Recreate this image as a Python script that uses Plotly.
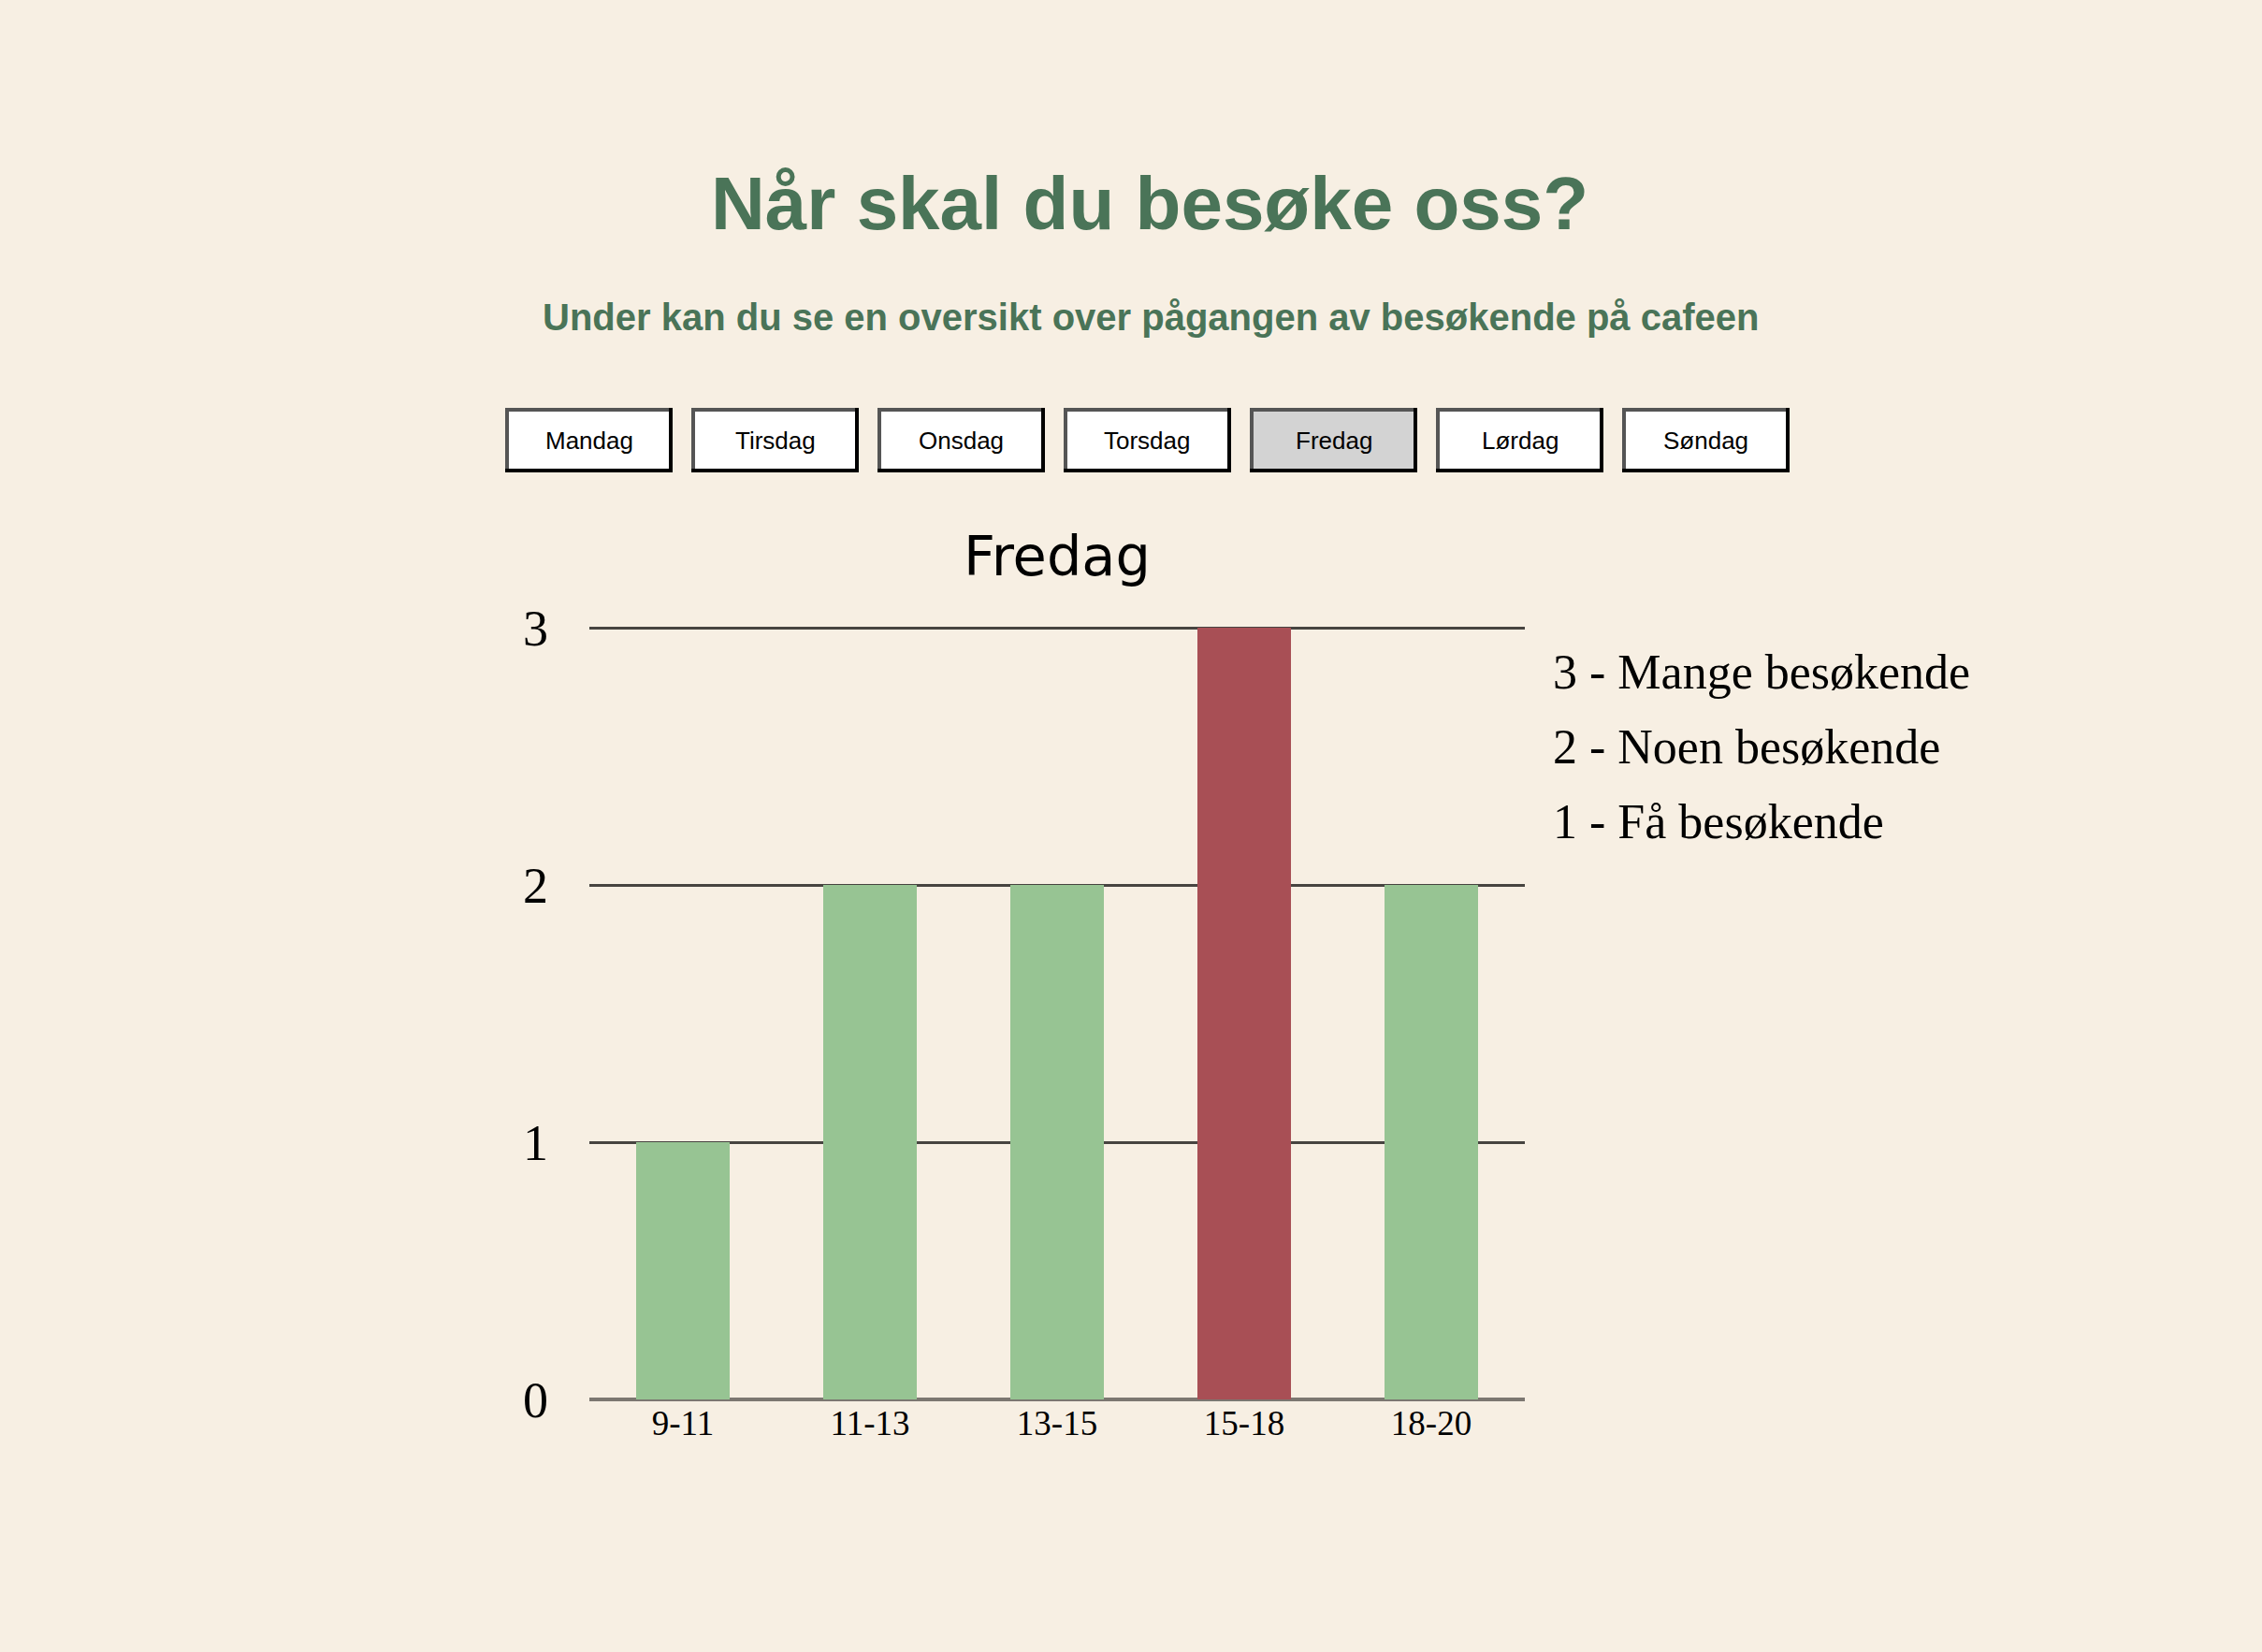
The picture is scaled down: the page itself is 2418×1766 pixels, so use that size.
import plotly.graph_objects as go

W, H = 2418, 1766

# ---- data ----
days = ["Mandag", "Tirsdag", "Onsdag", "Torsdag", "Fredag", "Lørdag", "Søndag"]
selected_day = "Fredag"
time_slots = ["9-11", "11-13", "13-15", "15-18", "18-20"]
visitors = [1, 2, 2, 3, 2]
level_labels = ["1 - Få besøkende", "2 - Noen besøkende", "3 - Mange besøkende"]
y_ticks = [0, 1, 2, 3]

title_text = "Når skal du besøke oss?"
subtitle_text = "Under kan du se en oversikt over pågangen av besøkende på cafeen"

# ---- styles ----
BG = "#f7efe3"
GREEN_TXT = "#4a7458"
BAR_GREEN = "#97c493"
BAR_RED = "#a84f55"
SERIF = "Liberation Serif, Times New Roman, serif"
SANS = "Liberation Sans, Arial, sans-serif"


def px(x):
    return x / W


def py(y):
    return 1 - y / H


bar_colors = [BAR_RED if v == max(visitors) else BAR_GREEN for v in visitors]

fig = go.Figure()
fig.add_trace(go.Bar(
    x=time_slots, y=visitors, marker=dict(color=bar_colors, line=dict(width=0)),
    hoverinfo="x+y",
))

# plot area in pixels
PL, PR = 630, 1630
PB = 1496
UNIT = 275          # pixels per y unit
YTOP = 3.02         # a little headroom so the top gridline is drawn
PT = PB - YTOP * UNIT

fig.update_layout(
    width=W, height=H,
    margin=dict(l=0, r=0, t=0, b=0, autoexpand=False),
    paper_bgcolor=BG, plot_bgcolor=BG,
    bargap=0.5,
    showlegend=False,
    xaxis=dict(
        domain=[px(PL), px(PR)], automargin=False,
        showgrid=False, showline=False, zeroline=False,
        tickfont=dict(family=SERIF, size=37, color="#000"),
        ticks="", fixedrange=True,
    ),
    yaxis=dict(
        domain=[py(PB), py(PT)], automargin=False,
        range=[0, YTOP], tickvals=y_ticks,
        showgrid=True, gridcolor="#474440", gridwidth=3,
        zeroline=True, zerolinecolor="#7c7771", zerolinewidth=4,
        showline=False,
        tickfont=dict(family=SERIF, size=54, color="#000"),
        ticks="", ticklabelstandoff=43, fixedrange=True,
    ),
)

annotations = []
# main title
annotations.append(dict(
    text=f"<b>{title_text}</b>", x=px(1229), y=py(217), xref="paper", yref="paper",
    xanchor="center", yanchor="middle", showarrow=False,
    font=dict(family=SANS, size=80, color=GREEN_TXT),
))
annotations.append(dict(
    text=f"<b>{subtitle_text}</b>", x=px(1230), y=py(339), xref="paper", yref="paper",
    xanchor="center", yanchor="middle", showarrow=False,
    font=dict(family=SANS, size=40, color=GREEN_TXT),
))
# chart title
annotations.append(dict(
    text=selected_day, x=px(1130), y=py(594), xref="paper", yref="paper",
    xanchor="center", yanchor="middle", showarrow=False,
    font=dict(family="DejaVu Sans, Verdana, sans-serif", size=59, color="#000"),
))
# level explanation
for i, lab in enumerate(reversed(level_labels)):
    annotations.append(dict(
        text=lab, x=px(1658), y=py(718 + 80 * i), xref="paper", yref="paper",
        xanchor="left", yanchor="middle", showarrow=False,
        font=dict(family=SERIF, size=52, color="#000"),
    ))

# day buttons
shapes = []
BX0, BSTEP, BW = 540, 199, 179
BY0, BH = 436, 69
BD = 4  # border thickness
for i, d in enumerate(days):
    x0 = BX0 + i * BSTEP
    x1 = x0 + BW
    y0, y1 = BY0, BY0 + BH
    fill = "#d3d3d3" if d == selected_day else "#ffffff"
    shapes.append(dict(type="rect", xref="paper", yref="paper",
                       x0=px(x0), x1=px(x1), y0=py(y1), y1=py(y0),
                       fillcolor="#000000", line=dict(width=0), layer="above"))
    shapes.append(dict(type="rect", xref="paper", yref="paper",
                       x0=px(x0), x1=px(x1 - BD), y0=py(y1 - BD), y1=py(y0),
                       fillcolor="#555555", line=dict(width=0), layer="above"))
    shapes.append(dict(type="rect", xref="paper", yref="paper",
                       x0=px(x0 + BD), x1=px(x1 - BD), y0=py(y1 - BD), y1=py(y0 + BD),
                       fillcolor=fill, line=dict(width=0), layer="above"))
    annotations.append(dict(
        text=d, x=px((x0 + x1) / 2), y=py((y0 + y1) / 2), xref="paper", yref="paper",
        xanchor="center", yanchor="middle", showarrow=False,
        font=dict(family=SANS, size=26, color="#000"),
    ))

fig.update_layout(annotations=annotations, shapes=shapes)

fig.write_html("out.html", config={"displayModeBar": False})
